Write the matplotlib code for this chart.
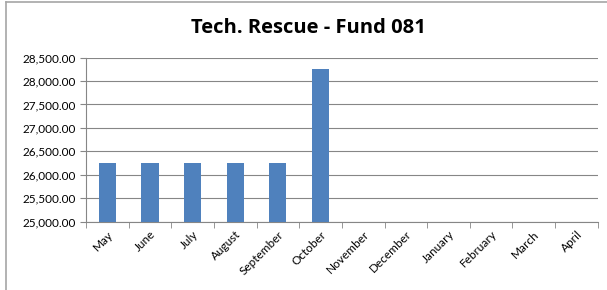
import matplotlib.pyplot as plt
from matplotlib.lines import Line2D
from matplotlib.ticker import FuncFormatter, MultipleLocator

months = ['May', 'June', 'July', 'August', 'September', 'October',
          'November', 'December', 'January', 'February', 'March', 'April']
amounts = [26260, 26260, 26260, 26260, 26260, 28260,
           0, 0, 0, 0, 0, 0]

plt.rcParams['font.family'] = ['Lato', 'DejaVu Sans']

fig = plt.figure(figsize=(6.07, 2.90), dpi=100)
ax = fig.add_axes([0.1417, 0.2355, 0.843, 0.566])

x = range(len(months))
ax.bar(x, amounts, width=0.4, color='#4F81BD', zorder=3)

ax.set_xlim(-0.5, len(months) - 0.5)
ax.set_ylim(25000, 28500)
ax.yaxis.set_major_locator(MultipleLocator(500))
ax.yaxis.set_major_formatter(FuncFormatter(lambda v, p: f'{v:,.2f}'))
ax.grid(axis='y', color='#868686', linewidth=0.8, zorder=0)

# category labels, tick marks sit between categories
ax.set_xticks(list(x))
ax.set_xticklabels(months, rotation=45, ha='right', va='top',
                   rotation_mode='anchor', fontsize=8.5)
ax.set_xticks([i - 0.5 for i in range(len(months) + 1)], minor=True)
ax.tick_params(axis='x', which='major', length=0, pad=5)
ax.tick_params(axis='x', which='minor', length=4, color='#868686', direction='out')
ax.tick_params(axis='y', length=4, color='#868686', labelsize=8.5, pad=3)

for side in ['top', 'right']:
    ax.spines[side].set_visible(False)
for side in ['left', 'bottom']:
    ax.spines[side].set_color('#868686')
    ax.spines[side].set_linewidth(0.8)

fig.text(0.508, 0.903, 'Tech. Rescue - Fund 081', ha='center', va='center',
         fontsize=14.5, fontweight='bold', family=['Open Sans', 'DejaVu Sans'])

# chart frame (top and left edge only visible)
fig.add_artist(Line2D([6 / 607, 1], [1 - 1.5 / 290] * 2, color='#A6A6A6', linewidth=1.2))
fig.add_artist(Line2D([6 / 607] * 2, [0, 1 - 1.5 / 290], color='#A6A6A6', linewidth=1.2))

fig.savefig('out.png', dpi=100, facecolor='white')
